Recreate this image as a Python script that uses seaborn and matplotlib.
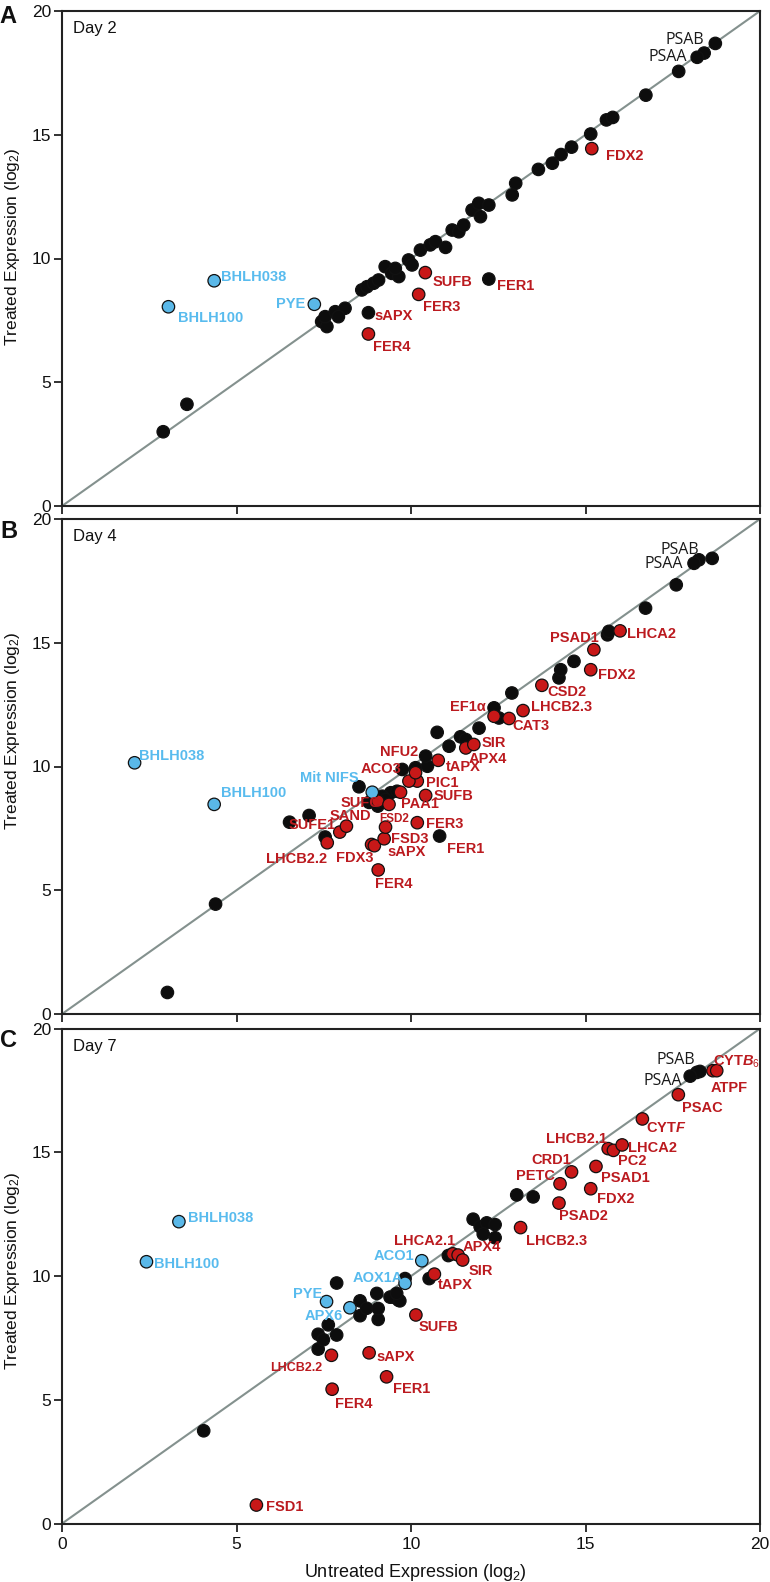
import pandas as pd
import matplotlib
matplotlib.use('Agg')
import matplotlib.pyplot as plt
import seaborn as sns

# ---------------- data (log2 expression: untreated x, treated y) ----------------
IDENTITY = [0, 20]
TICKS = [0, 5, 10, 15, 20]

# Day 2
day2_other_x = [2.90, 3.58, 7.44, 7.59, 7.54, 7.83, 8.11, 7.92, 8.59, 8.74, 8.93, 9.07, 9.26, 9.45,
                9.65, 9.55, 9.93, 10.03, 10.27, 10.55, 10.70, 10.99, 11.18, 11.37, 11.51, 11.75,
                11.94, 11.99, 12.23, 12.90, 13.00, 13.65, 14.05, 14.30, 14.60, 15.15, 15.60,
                15.78, 16.73, 17.67, 18.40]
day2_other_y = [3.00, 4.11, 7.45, 7.25, 7.65, 7.85, 7.99, 7.65, 8.73, 8.86, 9.00, 9.13, 9.67, 9.40,
                9.27, 9.60, 9.94, 9.74, 10.34, 10.55, 10.68, 10.45, 11.15, 11.08, 11.35, 11.96,
                12.23, 11.69, 12.16, 12.57, 13.04, 13.60, 13.85, 14.20, 14.50, 15.03, 15.60,
                15.70, 16.60, 17.56, 18.30]
day2_named = ['sAPX', 'FER1', 'PSAB', 'PSAA']
day2_named_x = [8.78, 12.23, 18.72, 18.20]
day2_named_y = [7.81, 9.17, 18.69, 18.13]
day2_red = ['FDX2', 'SUFB', 'FER3', 'FER4']
day2_red_x = [15.18, 10.41, 10.22, 8.78]
day2_red_y = [14.44, 9.43, 8.55, 6.95]
day2_blue = ['BHLH038', 'BHLH100', 'PYE']
day2_blue_x = [4.36, 3.05, 7.23]
day2_blue_y = [9.10, 8.05, 8.15]

# Day 4
day4_other_x = [3.02, 4.40, 6.52, 7.08, 7.54, 8.51, 9.42, 9.18, 8.99, 9.27, 9.60, 9.75, 10.13,
                10.47, 10.42, 10.75, 11.09, 11.42, 11.57, 11.95, 12.38, 12.52, 12.89, 14.24,
                14.29, 14.67, 15.63, 15.67, 16.72, 17.60, 18.25, 9.05, 8.80]
day4_other_y = [0.87, 4.44, 7.75, 8.02, 7.15, 9.18, 8.94, 8.80, 8.54, 8.67, 9.00, 9.88, 9.95,
                10.01, 10.42, 11.38, 10.82, 11.20, 11.09, 11.55, 12.37, 11.96, 12.97, 13.58,
                13.91, 14.25, 15.32, 15.46, 16.40, 17.34, 18.35, 8.40, 8.55]
day4_named = ['FER1', 'PSAB', 'PSAA']
day4_named_x = [10.82, 18.63, 18.11]
day4_named_y = [7.19, 18.41, 18.21]
day4_red = ['LHCB2.2', 'SUFE1', 'SAND', 'SUFC', 'FDX3', 'sAPX', 'FER4', 'FSD3', 'FSD2', 'PAA1',
            'FER3', 'SUFB', 'PIC1', 'ACO3', 'NFU2', 'tAPX', 'APX4', 'SIR', 'EF1α', 'CAT3',
            'LHCB2.3', 'CSD2', 'FDX2', 'PSAD1', 'LHCA2', '']
day4_red_x = [7.60, 7.96, 8.15, 9.05, 8.87, 8.95, 9.06, 9.23, 9.27, 9.37, 10.18, 10.42, 10.18,
              9.94, 10.13, 10.78, 11.57, 11.80, 12.38, 12.81, 13.21, 13.75, 15.15, 15.24,
              15.99, 9.70]
day4_red_y = [6.92, 7.35, 7.59, 8.60, 6.85, 6.80, 5.82, 7.08, 7.55, 8.47, 7.73, 8.83, 9.41,
              9.41, 9.75, 10.25, 10.75, 10.89, 12.03, 11.94, 12.26, 13.28, 13.91, 14.72,
              15.48, 8.96]
day4_blue = ['BHLH038', 'BHLH100', 'Mit NIFS']
day4_blue_x = [2.08, 4.36, 8.89]
day4_blue_y = [10.15, 8.47, 8.96]

# Day 7
day7_other_x = [4.06, 7.87, 7.34, 7.34, 7.63, 7.87, 7.49, 8.54, 8.54, 9.06, 9.02, 8.73, 9.49,
                9.06, 9.64, 9.40, 9.68, 9.59, 9.83, 10.52, 11.07, 11.78, 11.98, 12.17, 12.41,
                12.07, 12.41, 13.03, 13.50, 18.19]
day7_other_y = [3.75, 9.72, 7.05, 7.65, 8.03, 7.62, 7.43, 9.00, 8.40, 8.25, 9.30, 8.70, 9.15,
                8.69, 9.03, 9.15, 9.00, 9.30, 9.90, 9.90, 10.83, 12.30, 12.00, 12.15, 12.08,
                11.70, 11.55, 13.28, 13.20, 18.23]
day7_named = ['PSAB', 'PSAA']
day7_named_x = [18.28, 18.00]
day7_named_y = [18.27, 18.08]
day7_red = ['FSD1', 'LHCB2.2', 'FER4', 'sAPX', 'FER1', 'SUFB', 'tAPX', 'LHCA2.1', 'APX4', 'SIR',
            'LHCB2.3', 'PSAD2', 'PETC', 'CRD1', 'FDX2', 'PSAD1', 'LHCB2.1', 'PC2', 'LHCA2',
            'CYTF', 'PSAC', 'ATPF', 'CYTB6']
day7_red_x = [5.57, 7.72, 7.74, 8.80, 9.30, 10.14, 10.67, 11.20, 11.35, 11.48, 13.14, 14.24,
              14.27, 14.60, 15.15, 15.30, 15.65, 15.80, 16.05, 16.63, 17.66, 18.65, 18.76]
day7_red_y = [0.75, 6.80, 5.43, 6.90, 5.93, 8.43, 10.08, 10.90, 10.85, 10.65, 11.96, 12.95,
              13.73, 14.21, 13.53, 14.43, 15.15, 15.08, 15.30, 16.35, 17.33, 18.30, 18.30]
day7_blue = ['BHLH038', 'BHLH100', 'PYE', 'APX6', 'AOX1A', 'ACO1']
day7_blue_x = [3.35, 2.42, 7.58, 8.25, 9.83, 10.31]
day7_blue_y = [12.20, 10.58, 8.97, 8.72, 9.71, 10.62]

# ---------------- layout / style ----------------
RED = '#c81818'
RED_TXT = '#bb1a1f'
BLUE = '#5ab8e8'
BLUE_TXT = '#58bbee'
PALETTE = {'other': '#0d0d0d', 'red': RED, 'blue': BLUE}
PLAIN_LABELS = {'PSAB', 'PSAA'}
DISPLAY = {'CYTF': r'CYT$\mathit{F}$', 'CYTB6': r'CYT$\mathit{B_6}$'}
SMALL = {('Day 4', 'FSD2'): 8.5, ('Day 7', 'LHCB2.2'): 9}

# label offsets in pixels: (dx right, dy down, alignment)
OFFSETS = {
    'Day 2': {'BHLH038': (7, -5, 'left'), 'BHLH100': (10, 10, 'left'), 'PYE': (-9, -1, 'right'),
              'sAPX': (6, 2, 'left'), 'FER4': (5, 12, 'left'), 'SUFB': (7, 8, 'left'),
              'FER3': (4, 12, 'left'), 'FER1': (8, 6, 'left'), 'FDX2': (14, 6, 'left'),
              'PSAB': (-11, -4, 'right'), 'PSAA': (-10, -1, 'right')},
    'Day 4': {'BHLH038': (4, -8, 'left'), 'BHLH100': (7, -12, 'left'),
              'Mit NIFS': (-14, -15, 'right'), 'LHCB2.2': (0, 15, 'right'),
              'SUFE1': (-4, -8, 'right'), 'SAND': (-17, -11, 'left'), 'SUFC': (3, 1, 'right'),
              'FSD2': (-6, -9, 'left'), 'FSD3': (7, -1, 'left'), 'FDX3': (2, 13, 'right'),
              'sAPX': (13, 5, 'left'), 'FER4': (-3, 13, 'left'), 'FER3': (9, 0, 'left'),
              'FER1': (7, 12, 'left'), 'SUFB': (8, 0, 'left'), 'PAA1': (12, -1, 'left'),
              'PIC1': (9, 1, 'left'), 'ACO3': (-8, -13, 'right'), 'NFU2': (3, -22, 'right'),
              'tAPX': (8, 6, 'left'), 'APX4': (3, 10, 'left'), 'SIR': (8, -2, 'left'),
              'EF1α': (-8, -10, 'right'), 'CAT3': (3, 7, 'left'), 'LHCB2.3': (8, -5, 'left'),
              'CSD2': (5, 6, 'left'), 'FDX2': (7, 4, 'left'), 'PSAD1': (5, -13, 'right'),
              'LHCA2': (7, 2, 'left'), 'PSAB': (-13, -9, 'right'), 'PSAA': (-11, 0, 'right')},
    'Day 7': {'BHLH038': (8.6, -5, 'left'), 'BHLH100': (8, 1, 'left'), 'FSD1': (10, 1, 'left'),
              'LHCB2.2': (-9, 11.5, 'right'), 'FER4': (3, 14, 'left'), 'PYE': (-4, -9, 'right'),
              'APX6': (-7, 7, 'right'), 'AOX1A': (-2, -6, 'right'), 'ACO1': (-7.6, -6, 'right'),
              'LHCA2.1': (2, -14, 'right'), 'APX4': (5, -9, 'left'), 'SIR': (6, 10, 'left'),
              'tAPX': (3.5, 10, 'left'), 'SUFB': (3, 11, 'left'), 'sAPX': (7.5, 3, 'left'),
              'FER1': (6, 11, 'left'), 'LHCB2.3': (5, 12, 'left'), 'PSAD2': (0, 12, 'left'),
              'FDX2': (6, 9, 'left'), 'PETC': (-5, -8.5, 'right'), 'CRD1': (0, -13, 'right'),
              'PSAD1': (5, 11, 'left'), 'LHCB2.1': (-1.5, -10.5, 'right'), 'PC2': (5, 10, 'left'),
              'LHCA2': (6, 2, 'left'), 'CYTF': (4, 8, 'left'), 'PSAC': (3.5, 12, 'left'),
              'ATPF': (-2, 16, 'left'), 'CYTB6': (-3.6, -10, 'left'),
              'PSAB': (-5, -12, 'right'), 'PSAA': (-8, 4, 'right')},
}


def frame(other_x, other_y, named, named_x, named_y, red, red_x, red_y, blue, blue_x, blue_y):
    parts = [
        pd.DataFrame({'x': other_x, 'y': other_y, 'gene': '', 'group': 'other'}),
        pd.DataFrame({'x': named_x, 'y': named_y, 'gene': named, 'group': 'other'}),
        pd.DataFrame({'x': red_x, 'y': red_y, 'gene': red, 'group': 'red'}),
        pd.DataFrame({'x': blue_x, 'y': blue_y, 'gene': blue, 'group': 'blue'}),
    ]
    return pd.concat(parts, ignore_index=True)


panels = [
    ('A', 'Day 2', frame(day2_other_x, day2_other_y, day2_named, day2_named_x, day2_named_y,
                         day2_red, day2_red_x, day2_red_y, day2_blue, day2_blue_x, day2_blue_y)),
    ('B', 'Day 4', frame(day4_other_x, day4_other_y, day4_named, day4_named_x, day4_named_y,
                         day4_red, day4_red_x, day4_red_y, day4_blue, day4_blue_x, day4_blue_y)),
    ('C', 'Day 7', frame(day7_other_x, day7_other_y, day7_named, day7_named_x, day7_named_y,
                         day7_red, day7_red_x, day7_red_y, day7_blue, day7_blue_x, day7_blue_y)),
]

sns.set_style('ticks')
plt.rcParams['font.family'] = ['Liberation Sans', 'DejaVu Sans']
plt.rcParams['mathtext.fontset'] = 'custom'
plt.rcParams['mathtext.rm'] = 'Liberation Sans'
plt.rcParams['mathtext.it'] = 'Liberation Sans:italic:bold'
plt.rcParams['mathtext.bf'] = 'Liberation Sans:bold'

W, H = 770, 1582
fig = plt.figure(figsize=(W / 100, H / 100), dpi=100)

left, right = 62, 760
tops = [11, 519, 1028.6]
ph = 495
letter_y = [1.012, 0.998, 1.0]
ylab_y = [0.524, 0.573, 0.51]
INK = '#222222'

for i, (letter, day, df) in enumerate(panels):
    top = tops[i]
    ax = fig.add_axes([left / W, 1 - (top + ph) / H, (right - left) / W, ph / H])

    sns.lineplot(x=IDENTITY, y=IDENTITY, color='#84918e', linewidth=1.5, ax=ax, zorder=1)
    sns.scatterplot(data=df, x='x', y='y', hue='group', palette=PALETTE, s=80,
                    edgecolor='#111111', linewidth=0.9, legend=False, ax=ax, zorder=3)

    offs = OFFSETS[day]
    for _, r in df.iterrows():
        g = r['gene']
        if not g or g not in offs:
            continue
        dx, dy, ha = offs[g]
        if g in PLAIN_LABELS:
            kw = dict(color='#1a1a1a', fontsize=11.5, family='Open Sans')
        elif r['group'] == 'blue':
            kw = dict(color=BLUE_TXT, fontsize=10.5, fontweight='bold')
        else:
            kw = dict(color=RED_TXT, fontsize=SMALL.get((day, g), 10.5), fontweight='bold')
        ax.annotate(DISPLAY.get(g, g), (r['x'], r['y']), xytext=(dx * 0.72, -(dy + 1) * 0.72),
                    textcoords='offset points', ha=ha, va='center', zorder=5, **kw)

    ax.set_xlim(0, 20)
    ax.set_ylim(0, 20)
    ax.set_xticks(TICKS)
    ax.set_yticks(TICKS)
    for sp in ax.spines.values():
        sp.set_visible(True)
        sp.set_linewidth(1.5)
        sp.set_color(INK)
    ax.tick_params(direction='out', length=6, width=1.3, labelsize=12.5, pad=2,
                   colors=INK, labelcolor='#111111')
    ax.set_ylabel('Treated Expression (log$_2$)', fontsize=12.5, color='#111111')
    ax.yaxis.set_label_coords(-0.058, ylab_y[i])
    if letter == 'C':
        ax.tick_params(axis='x', pad=4)
        ax.set_xlabel('Untreated Expression (log$_2$)', fontsize=13, color='#111111')
        ax.xaxis.set_label_coords(0.506, -0.078)
    else:
        ax.tick_params(axis='x', labelbottom=False)
        ax.set_xlabel('')

    ax.text(0.016, 0.964, day, transform=ax.transAxes, fontsize=12, va='center', color='#111111')
    ax.text(-0.089, letter_y[i], letter, transform=ax.transAxes, fontsize=17,
            fontweight='bold', ha='left', va='top', color='#111111')

fig.savefig('out.png', dpi=100)
